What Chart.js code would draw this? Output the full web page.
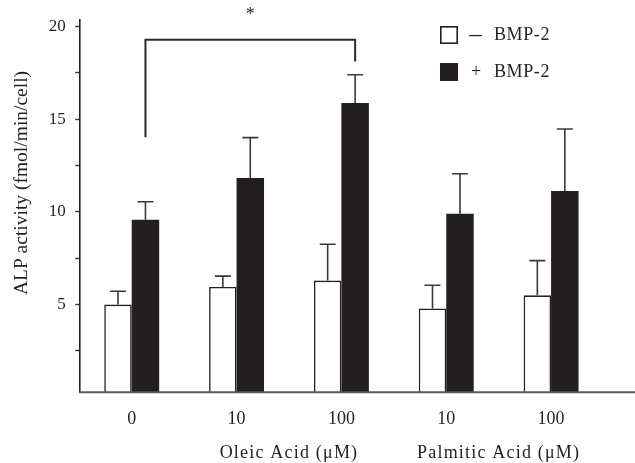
<!DOCTYPE html>
<html>
<head>
<meta charset="utf-8">
<script src="https://cdn.jsdelivr.net/npm/chart.js@4.4.0/dist/chart.umd.min.js"></script>
<style>
    html, body { margin: 0; padding: 0; background: #ffffff; }
</style>
</head>
<body>
<canvas id="alpChart" width="635" height="463"></canvas>
<script>
// doses on the x axis, two series per dose
const doses = ['0', '10', '100', '10', '100'];
const withoutBmp = [5.0, 5.95, 6.29, 4.79, 5.5];
const withoutBmpErr = [5.72, 6.53, 8.25, 6.04, 7.37];
const withBmp = [9.57, 11.82, 15.86, 9.9, 11.12];
const withBmpErr = [10.54, 14.0, 17.39, 12.05, 14.46];
const yTicks = [2.5, 5, 7.5, 10, 12.5, 15, 17.5, 20];
const yTitle = 'ALP activity (fmol/min/cell)';
const groupNames = ['Oleic Acid (μM)', 'Palmitic Acid (μM)'];
const groupSpans = [[1, 2], [3, 4]];
const seriesNames = ['– BMP-2', '+ BMP-2'];
// significance bracket: from bar 0 to bar 2 of the +BMP-2 series
const bracketBars = [0, 2];
const bracketLevels = [14.02, 19.28, 18.1];
const bracketMark = '*';

const serif = '"Liberation Serif", "Times New Roman", serif';
const ink = '#231f20';

const decorPlugin = {
    id: 'decor',
    afterDatasetsDraw(chart) {
        const ctx = chart.ctx;
        const y = chart.scales.y;
        ctx.save();

        // error bars (upper whisker only)
        chart.data.datasets.forEach((ds, di) => {
            const meta = chart.getDatasetMeta(di);
            meta.data.forEach((bar, i) => {
                const top = y.getPixelForValue(ds.data[i]);
                const end = y.getPixelForValue(ds.errorTop[i]);
                ctx.strokeStyle = '#3a3a3a';
                ctx.lineWidth = 1.6;
                ctx.beginPath();
                ctx.moveTo(bar.x, top);
                ctx.lineTo(bar.x, end);
                ctx.moveTo(bar.x - 8, end);
                ctx.lineTo(bar.x + 8, end);
                ctx.stroke();
            });
        });

        // significance bracket
        const meta = chart.getDatasetMeta(1);
        const x0 = meta.data[bracketBars[0]].x;
        const x1 = meta.data[bracketBars[1]].x;
        const yTop = y.getPixelForValue(bracketLevels[1]);
        ctx.strokeStyle = '#2a2a2a';
        ctx.lineWidth = 2;
        ctx.beginPath();
        ctx.moveTo(x0, y.getPixelForValue(bracketLevels[0]));
        ctx.lineTo(x0, yTop);
        ctx.lineTo(x1, yTop);
        ctx.lineTo(x1, y.getPixelForValue(bracketLevels[2]));
        ctx.stroke();
        ctx.fillStyle = ink;
        ctx.font = '18px ' + serif;
        ctx.textAlign = 'center';
        ctx.textBaseline = 'alphabetic';
        ctx.fillText(bracketMark, (x0 + x1) / 2, yTop - 20);
        ctx.restore();
    },
    afterDraw(chart) {
        const ctx = chart.ctx;
        const area = chart.chartArea;
        const x = chart.scales.x;
        ctx.save();

        // x axis line runs on to the right edge
        ctx.strokeStyle = '#5a5a5a';
        ctx.lineWidth = 2;
        ctx.beginPath();
        ctx.moveTo(area.left, area.bottom);
        ctx.lineTo(chart.width, area.bottom);
        ctx.stroke();

        // group labels under the dose labels
        ctx.fillStyle = ink;
        ctx.font = '18px ' + serif;
        ctx.letterSpacing = '1.2px';
        ctx.textAlign = 'center';
        ctx.textBaseline = 'middle';
        groupNames.forEach((name, i) => {
            const cx = (x.getPixelForValue(groupSpans[i][0]) + x.getPixelForValue(groupSpans[i][1])) / 2;
            ctx.fillText(name, cx, 453);
        });

        // y axis title
        ctx.letterSpacing = '0px';
        ctx.save();
        ctx.translate(22, 183);
        ctx.rotate(-Math.PI / 2);
        ctx.font = '19.5px ' + serif;
        ctx.fillText(yTitle, 0, 0);
        ctx.restore();

        // legend
        chart.data.datasets.forEach((ds, i) => {
            const cy = 35 + i * 37;
            ctx.fillStyle = ds.backgroundColor;
            ctx.fillRect(440, cy - 9, 18, 18);
            ctx.strokeStyle = ink;
            ctx.lineWidth = 1.6;
            ctx.strokeRect(440.8, cy - 8.2, 16.4, 16.4);
            const parts = ds.label.split(' ');
            ctx.fillStyle = ink;
            ctx.font = (i === 0 ? '25px ' : '18px ') + serif;
            ctx.textAlign = 'center';
            ctx.fillText(parts[0], i === 0 ? 475.5 : 476, cy + (i === 0 ? 0.5 : 0));
            ctx.font = '18px ' + serif;
            ctx.textAlign = 'left';
            ctx.letterSpacing = '0.6px';
            ctx.fillText(parts[1], 494, cy);
            ctx.letterSpacing = '0px';
        });
        ctx.restore();
    }
};

new Chart(document.getElementById('alpChart'), {
    type: 'bar',
    data: {
        labels: doses,
        datasets: [
            {
                label: seriesNames[0],
                data: withoutBmp,
                errorTop: withoutBmpErr,
                backgroundColor: '#ffffff',
                borderColor: ink,
                borderWidth: 1.6
            },
            {
                label: seriesNames[1],
                data: withBmp,
                errorTop: withBmpErr,
                backgroundColor: ink,
                borderWidth: 0
            }
        ]
    },
    options: {
        responsive: false,
        animation: false,
        devicePixelRatio: 1,
        categoryPercentage: 0.524,
        barPercentage: 1.0,
        layout: {
            padding: { top: 11.7, right: 31.5, bottom: 0, left: 0 }
        },
        plugins: {
            legend: { display: false },
            tooltip: { enabled: false }
        },
        scales: {
            x: {
                afterFit(scale) { scale.height = 70.7; },
                grid: { display: false, drawTicks: false },
                border: { display: false },
                ticks: {
                    color: ink,
                    padding: 16,
                    font: { family: serif, size: 18 }
                }
            },
            y: {
                min: 0.27,
                max: 20.35,
                afterFit(scale) { scale.width = 79.3; },
                afterBuildTicks(scale) { scale.ticks = yTicks.map(v => ({ value: v })); },
                grid: {
                    drawOnChartArea: false,
                    drawTicks: true,
                    tickLength: 4,
                    tickColor: '#333333',
                    tickWidth: 1.4
                },
                border: { display: true, color: '#222222', width: 1.6 },
                ticks: {
                    autoSkip: false,
                    color: ink,
                    padding: 9.6,
                    font: { family: serif, size: 17 },
                    callback: v => (v % 5 === 0 ? String(v) : '')
                }
            }
        }
    },
    plugins: [decorPlugin]
});
</script>
</body>
</html>
